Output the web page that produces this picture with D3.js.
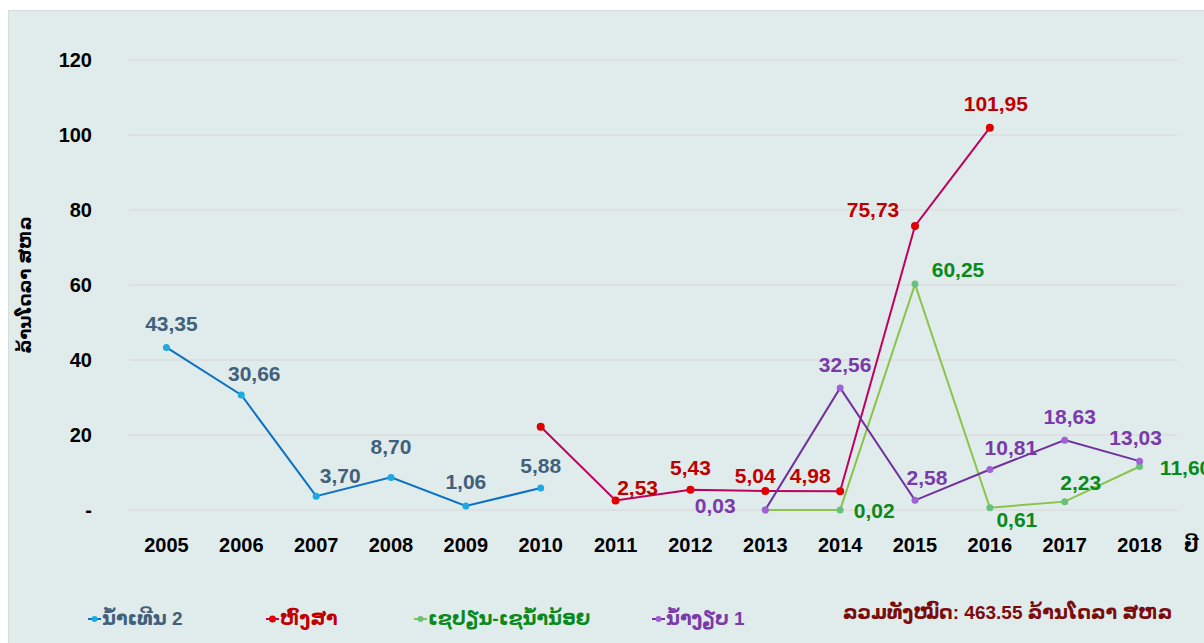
<!DOCTYPE html>
<html>
<head>
  <meta charset="utf-8">
  <script src="https://d3js.org/d3.v7.min.js"></script>
  <style>
    body { margin: 0; background: #fff; }
    svg text { font-family: "Liberation Sans", Arial, "DejaVu Sans", sans-serif; font-weight: bold; }
  </style>
</head>
<body>
<script>
  // years on the x axis
  var years = [2005, 2006, 2007, 2008, 2009, 2010, 2011, 2012, 2013, 2014, 2015, 2016, 2017, 2018];
  var yTicks = [0, 20, 40, 60, 80, 100, 120];

  // million USD per project (null = no value)
  var namTheun2 = [43.35, 30.66, 3.70, 8.70, 1.06, 5.88, null, null, null, null, null, null, null, null];
  var hongsa    = [null, null, null, null, null, 22.19, 2.53, 5.43, 5.04, 4.98, 75.73, 101.95, null, null];
  var xepian    = [null, null, null, null, null, null, null, null, 0, 0.02, 60.25, 0.61, 2.23, 11.60];
  var namNgiep  = [null, null, null, null, null, null, null, null, 0.03, 32.56, 2.58, 10.81, 18.63, 13.03];

  var seriesNames = ["ນ້ຳເທີນ 2", "ຫົງສາ", "ເຊປຽນ-ເຊນ້ຳນ້ອຍ", "ນ້ຳງຽບ 1"];
  var totalText = "ລວມທັງໝົດ: 463.55 ລ້ານໂດລາ ສຫລ";
  var yTitle = "ລ້ານໂດລາ ສຫລ";
  var xTitle = "ປີ";

  var width = 1204, height = 643;
  var svg = d3.select("body").append("svg")
    .attr("width", width).attr("height", height);

  // panel
  svg.append("rect")
    .attr("x", 8.5).attr("y", 10.5).attr("width", 1200).attr("height", 640)
    .attr("fill", "#e0ebeb").attr("stroke", "#d4dcdc");

  var x = d3.scaleBand().domain(years).range([129, 1177]);
  var y = d3.scaleLinear().domain([0, 120]).range([510, 60]);
  var cx = function(yr) { return x(yr) + x.bandwidth() / 2; };

  // gridlines
  svg.append("g").selectAll("line").data(yTicks).join("line")
    .attr("x1", 129).attr("x2", 1177)
    .attr("y1", d => y(d)).attr("y2", d => y(d))
    .attr("stroke", "#dad6d6").attr("stroke-width", 1);

  // y axis labels
  svg.append("g").selectAll("text").data(yTicks).join("text")
    .attr("x", 92).attr("y", d => y(d) + 7)
    .attr("text-anchor", "end")
    .attr("font-size", 20).attr("fill", "#000")
    .text(d => d === 0 ? "-" : d);

  // x axis labels
  svg.append("g").selectAll("text").data(years).join("text")
    .attr("x", d => cx(d)).attr("y", 552)
    .attr("text-anchor", "middle")
    .attr("font-size", 20).attr("fill", "#000")
    .text(d => d);

  svg.append("text").attr("x", 1184).attr("y", 552)
    .attr("font-size", 20).attr("fill", "#000").text(xTitle);

  svg.append("text")
    .attr("transform", "translate(31,285) rotate(-90)")
    .attr("text-anchor", "middle")
    .attr("font-size", 18).attr("fill", "#000")
    .text(yTitle);

  // label placement: [dx, dy] relative to the point, null = no label
  var A = function(dx, dy) { return [dx, dy]; };
  var series = [
    { values: namTheun2, line: "#0b72c4", dot: "#1fa9e1", label: "#41607c", r: 3.5,
      place: [A(5,-16), A(13,-14), A(24,-13), A(0,-23), A(0,-17), A(0,-15)] },
    { values: hongsa, line: "#c0005e", dot: "#e00000", label: "#c00000", r: 4,
      place: [null, A(22,-6), A(0,-15), A(-10,-8), A(-30,-8), A(-42,-9), A(6,-17)] },
    { values: xepian, line: "#8bc34a", dot: "#66c27a", label: "#0a8a1a", r: 3.5,
      place: [null, A(34,8), A(43,-7), A(27,19), A(16,-12), A(46,8)] },
    { values: namNgiep, line: "#7030a0", dot: "#a060d8", label: "#7a3aaa", r: 3.5,
      place: [A(-50,3), A(5,-16), A(12,-15), A(21,-14), A(5,-16), A(-4,-16)] }
  ];

  var fmt = function(v) { return d3.format(".2f")(v).replace(".", ","); };

  series.forEach(function(s) {
    var pts = years.map((yr, i) => ({ yr: yr, v: s.values[i] })).filter(d => d.v !== null);
    pts.forEach((d, i) => { d.place = s.place[i]; });

    var line = d3.line().x(d => cx(d.yr)).y(d => y(d.v));
    svg.append("path").datum(pts)
      .attr("d", line).attr("fill", "none")
      .attr("stroke", s.line).attr("stroke-width", 2);

    svg.append("g").selectAll("circle").data(pts).join("circle")
      .attr("cx", d => cx(d.yr)).attr("cy", d => y(d.v))
      .attr("r", s.r).attr("fill", s.dot);

    svg.append("g").selectAll("text").data(pts.filter(d => d.place)).join("text")
      .attr("x", d => cx(d.yr) + d.place[0])
      .attr("y", d => y(d.v) + d.place[1])
      .attr("text-anchor", "middle")
      .attr("font-size", 21).attr("fill", s.label)
      .text(d => fmt(d.v));
  });

  // legend
  var legendX = [88, 266, 414, 652];
  var legendColors = ["#41607c", "#c00000", "#0a8a1a", "#7a3aaa"];
  var leg = svg.append("g").selectAll("g").data(series).join("g")
    .attr("transform", (d, i) => "translate(" + legendX[i] + ",619)");
  leg.append("line").attr("x1", 0).attr("x2", 13).attr("y1", 0).attr("y2", 0)
    .attr("stroke", d => d.line).attr("stroke-width", 2);
  leg.append("circle").attr("cx", 6.5).attr("cy", 0).attr("r", d => d.r - 0.5).attr("fill", d => d.dot);
  leg.append("text").attr("x", 14).attr("y", 6)
    .attr("font-size", 19).attr("fill", (d, i) => legendColors[i])
    .text((d, i) => seriesNames[i]);

  svg.append("text").attr("x", 843).attr("y", 619)
    .attr("font-size", 19).attr("fill", "#7b0c0c")
    .text(totalText);
</script>
</body>
</html>
